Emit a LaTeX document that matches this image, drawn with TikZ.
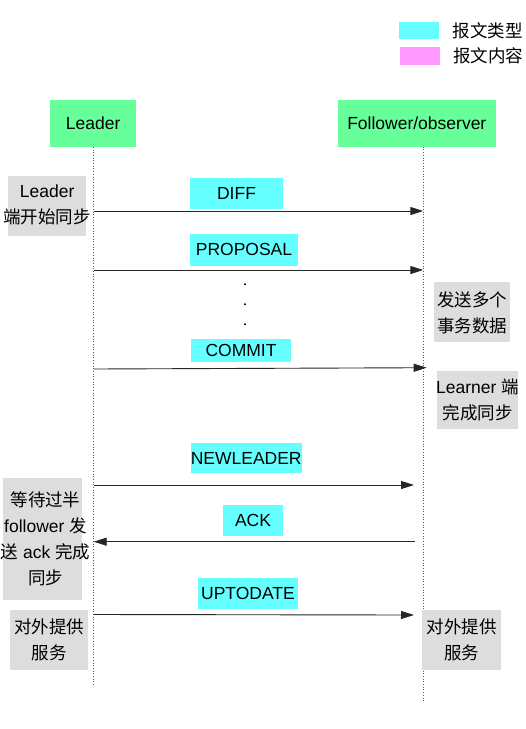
\documentclass[tikz,border=0pt]{standalone}
\usepackage{fontspec}
\setmainfont{Liberation Sans}
\newfontfamily\cjk{Noto Sans CJK SC}
\newcommand{\zh}[1]{{\cjk #1}}
\usetikzlibrary{arrows.meta}
\definecolor{actorgreen}{HTML}{66FF99}
\definecolor{msgcyan}{HTML}{66FFFF}
\definecolor{msgpink}{HTML}{FF99FF}
\definecolor{notegray}{HTML}{DDDDDD}

\begin{document}
\begin{tikzpicture}[x=1pt,y=-1pt,
    every node/.style={font=\fontsize{17.5}{26}\selectfont},
    actor/.style={fill=actorgreen, minimum height=46.7, inner sep=0},
    msgtype/.style={fill=msgcyan, inner sep=0},
    notebox/.style={fill=notegray, inner sep=0},
    notetext/.style={align=center, inner sep=0},
    lifeline/.style={dotted, line width=0.7pt, gray!70!black},
    msg/.style={-{Triangle[length=13pt,width=8pt]}, line width=0.9pt, black!85}]

\useasboundingbox (0,0) rectangle (526,729);

%% Legend
\node[msgtype, minimum width=40, minimum height=17.3] (keytype) at (419.3,30.7) {};
\node[anchor=west, inner sep=0] (keytypetext) at (452.7,30.5) {\zh{报文类型}};
\node[fill=msgpink, inner sep=0, minimum width=40, minimum height=17.7] (keybody) at (420,56.2) {};
\node[anchor=west, inner sep=0] (keybodytext) at (453,56) {\zh{报文内容}};

%% Actors
\node[actor, minimum width=85.7] (leader) at (93.2,123.3) {Leader};
\node[actor, minimum width=158.3] (follower) at (416.8,123.3) {Follower/observer};

%% Lifelines
\coordinate (leaderend) at (93.7,686.7);
\coordinate (followertop) at (423.3,146.7);
\coordinate (followerend) at (423.3,701.7);
\draw[lifeline] (leader.south -| leaderend) -- (leaderend);
\draw[lifeline] (followertop) -- (followerend);

%% Notes
\node[notebox, minimum width=78.3, minimum height=60.3] (syncstart) at (47.2,205.8) {};
\node[notetext] (syncstarttext) at (47.2,204.7) {Leader\\\zh{端开始同步}};

\node[notebox, minimum width=76, minimum height=59.4] (sendtxn) at (472,312) {};
\node[notetext] (sendtxntext) at (472,313) {\zh{发送多个}\\\zh{事务数据}};

\node[notebox, minimum width=81, minimum height=58.6] (learnerdone) at (477.8,400) {};
\node[notetext] (learnerdonetext) at (477.5,400.3) {Learner \zh{端}\\\zh{完成同步}};

\node[notebox, minimum width=79.6, minimum height=122.3] (waitack) at (42.5,538.8) {};
\node[notetext] (waitacktext) at (45.5,539) {\zh{等待过半}\\follower \zh{发}\\\zh{送} ack \zh{完成}\\\zh{同步}};

\node[notebox, minimum width=78.3, minimum height=60] (leaderserve) at (49.2,640) {};
\node[notetext] (leaderservetext) at (49.2,640) {\zh{对外提供}\\\zh{服务}};

\node[notebox, minimum width=78.4, minimum height=60] (followerserve) at (461.5,640) {};
\node[notetext] (followerservetext) at (461.5,640) {\zh{对外提供}\\\zh{服务}};

%% Message types
\node[msgtype, minimum width=92.4, minimum height=31.3] (diff) at (236.5,193.3) {DIFF};
\node[msgtype, minimum width=107.4, minimum height=32] (proposal) at (244,249.7) {PROPOSAL};
\node[msgtype, minimum width=100, minimum height=23] (commit) at (241,350.2) {COMMIT};
\node[msgtype, minimum width=111, minimum height=30.6] (newleader) at (246.2,458) {NEWLEADER};
\node[msgtype, minimum width=60.6, minimum height=30.7] (ack) at (253,520.3) {ACK};
\node[msgtype, minimum width=99.4, minimum height=31] (uptodate) at (248,593.2) {UPTODATE};

%% Messages
\coordinate (diffL) at (93.7,211);       \coordinate (diffF) at (423.3,211);
\coordinate (proposalL) at (93.7,270);   \coordinate (proposalF) at (423.3,270);
\coordinate (commitL) at (93.7,369);     \coordinate (commitF) at (426.7,367.7);
\coordinate (newleaderL) at (93.7,485);  \coordinate (newleaderF) at (414,485);
\coordinate (ackF) at (415,541.7);       \coordinate (ackL) at (93.7,541.7);
\coordinate (uptodateL) at (93.7,614.5); \coordinate (uptodateF) at (414,615);

\draw[msg] (diffL) -- (diffF);
\draw[msg] (proposalL) -- (proposalF);
\draw[msg] (commitL) -- (commitF);
\draw[msg] (newleaderL) -- (newleaderF);
\draw[msg] (ackF) -- (ackL);
\draw[msg] (uptodateL) -- (uptodateF);

% more proposals
\foreach \y in {284.3,304.3,324.3}{
    \fill (245,\y) circle (1.1);
}

\end{tikzpicture}
\end{document}
